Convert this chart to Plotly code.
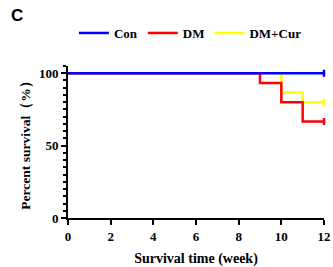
import plotly.graph_objects as go

weeks = [0, 9, 10, 11, 12]
con = [100, 100, 100, 100, 100]
dm = [100, 93.3, 80, 66.7, 66.7]
dm_cur = [100, 100, 86.7, 80, 80]

x_ticks = [0, 2, 4, 6, 8, 10, 12]
y_ticks = [0, 50, 100]

series = [("DM+Cur", dm_cur, "#ffff00"), ("DM", dm, "#ff0000"), ("Con", con, "#0000ff")]

fig = go.Figure()
for name, vals, col in series:
    fig.add_trace(go.Scatter(x=weeks, y=vals, name=name, mode="lines", line=dict(color=col, width=2.5, shape="hv"), cliponaxis=False))
    fig.add_trace(go.Scatter(x=[weeks[-1]], y=[vals[-1]], mode="markers", showlegend=False,
                             marker=dict(symbol="line-ns", size=5, line=dict(color=col, width=2.5)), cliponaxis=False))

fig.update_layout(
    width=333, height=267,
    margin=dict(l=68, r=9, t=66, b=49, autoexpand=False),
    plot_bgcolor="white", paper_bgcolor="white",
    font=dict(family="Liberation Serif", size=12, color="black"),
    showlegend=True,
    legend=dict(orientation="h", x=0.023, xanchor="left", y=1.217, yanchor="middle", traceorder="reversed",
                font=dict(family="Liberation Serif", size=13, color="black", weight="bold"),
                itemwidth=30, tracegroupgap=0),
    annotations=[dict(text="<b>C</b>", xref="paper", yref="paper", x=-0.2, y=1.335, xanchor="center", yanchor="middle",
                      showarrow=False, font=dict(family="Liberation Sans, Arial", size=17, color="black"))],
)
fig.update_xaxes(range=[0, 12], tickvals=x_ticks, showline=True, linecolor="black", linewidth=2, automargin=False,
                 ticks="outside", ticklen=5, tickwidth=2, tickcolor="black", showgrid=False, zeroline=False,
                 tickfont=dict(family="Liberation Serif", size=13, weight="bold"),
                 title=dict(text="Survival time (week)", font=dict(family="Liberation Serif", size=14, weight="bold"), standoff=11))
fig.update_yaxes(range=[0, 105], tickvals=y_ticks, showline=True, linecolor="black", linewidth=2, automargin=False,
                 ticks="outside", ticklen=5, tickwidth=2, tickcolor="black", showgrid=False, zeroline=False,
                 minor=dict(dtick=5, tick0=0, ticks="outside", ticklen=3, tickwidth=1.5, tickcolor="black", showgrid=False),
                 tickfont=dict(family="Liberation Serif", size=13, weight="bold"),
                 title=dict(text="Percent survival（%）", font=dict(family="Liberation Serif", size=13.5, weight="bold"), standoff=5))
fig.write_html("out.html", config={"displayModeBar": False},
               post_script="document.body.style.margin='0';document.body.style.overflow='hidden';")
